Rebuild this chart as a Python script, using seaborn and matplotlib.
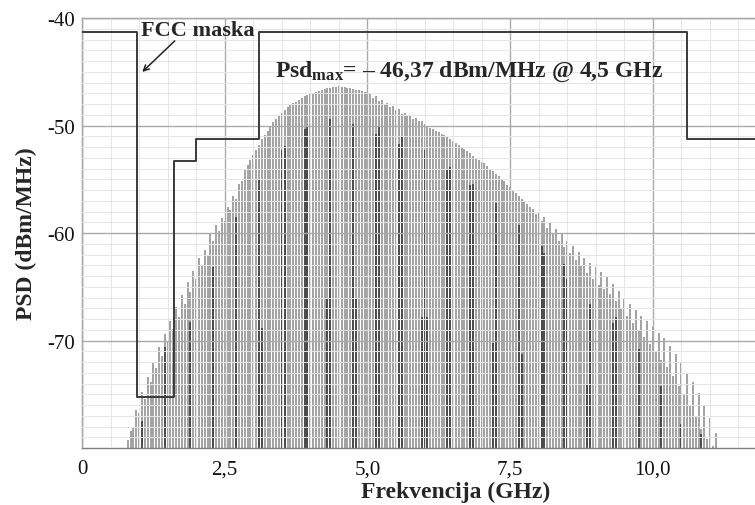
import numpy as np
import pandas as pd
import matplotlib
matplotlib.use("Agg")
import matplotlib.pyplot as plt
import seaborn as sns
from matplotlib.ticker import MultipleLocator

# spectral lines, 0.05 GHz apart starting at 0.80 GHz (dBm/MHz)
f_start = 0.80
f_step = 0.05
psd_lines = [
    -79.3, -78.4, -78.0, -76.5, -76.7, -74.8, -75.4, -73.4, -73.9, -72.0,
    -72.6, -70.6, -71.4, -69.4, -70.1, -68.2, -68.9, -66.9, -67.8, -65.8,
    -66.6, -64.6, -65.5, -63.5, -64.3, -62.3, -63.0, -61.6, -62.1, -60.1,
    -60.7, -59.3, -59.8, -58.6, -58.9, -57.6, -57.9, -56.6, -56.8, -55.4,
    -55.2, -54.1, -53.7, -53.2, -52.7, -52.3, -51.8, -51.3, -50.9, -50.5,
    -50.1, -49.7, -49.4, -49.1, -48.8, -48.6, -48.3, -48.1, -47.9, -47.8,
    -47.6, -47.4, -47.3, -47.2, -47.1, -47.0, -46.9, -46.8, -46.7, -46.6,
    -46.5, -46.5, -46.4, -46.4, -46.37, -46.4, -46.4, -46.5, -46.5, -46.6,
    -46.7, -46.7, -46.8, -46.9, -46.9, -47.1, -47.4, -47.3, -47.7, -47.6,
    -48.0, -47.9, -48.3, -48.2, -48.6, -48.5, -48.9, -48.8, -49.1, -49.0,
    -49.4, -49.3, -49.6, -49.6, -49.9, -50.0, -50.2, -50.3, -50.5, -50.6,
    -50.8, -50.9, -51.1, -51.3, -51.4, -51.6, -51.8, -52.0, -52.2, -52.4,
    -52.6, -52.8, -53.0, -53.2, -53.4, -53.5, -53.8, -54.0, -54.2, -54.5,
    -54.7, -55.0, -55.2, -55.5, -55.7, -56.0, -56.3, -56.6, -56.8, -57.1,
    -57.3, -57.6, -57.8, -58.2, -58.0, -58.9, -58.5, -59.5, -59.0, -60.1,
    -59.6, -60.7, -60.1, -61.3, -60.7, -61.9, -61.2, -62.5, -61.8, -63.1,
    -62.3, -63.7, -62.8, -64.3, -63.2, -64.8, -63.6, -65.2, -64.1, -65.7,
    -64.7, -66.3, -65.4, -67.0, -66.0, -67.7, -66.6, -68.4, -67.2, -69.0,
    -67.7, -69.7, -68.2, -70.3, -68.7, -71.0, -69.3, -71.8, -69.8, -72.5,
    -70.5, -73.3, -71.3, -74.2, -72.1, -75.0, -73.0, -76.0, -73.9, -77.0,
    -74.9, -78.2, -76.0, -79.2, -77.2, -79.8, -78.6,
]

# darker lines drawn on top
dark_freq = [1.05, 1.45, 1.90, 2.30, 2.70, 3.10, 3.15, 3.50, 3.55, 3.90, 3.95,
             4.30, 4.35, 4.75, 4.80, 5.15, 5.20, 5.55, 5.60, 5.95, 6.00, 6.05,
             6.40, 6.45, 6.80, 6.85, 7.20, 7.25, 7.65, 7.70, 8.05, 8.10, 8.45,
             8.50, 8.85, 8.90, 9.30, 9.35, 9.75, 10.15, 10.50, 10.85]
dark_psd = [-77.5, -70.6, -68.3, -63.2, -58.5, -55.1, -68.8, -52.3, -51.9, -50.3, -50.0,
            -66.1, -49.4, -49.9, -66.1, -50.8, -50.0, -51.7, -51.0, -67.8, -52.3, -67.8,
            -54.0, -53.9, -55.5, -55.4, -70.2, -57.2, -59.3, -71.3, -61.2, -61.9, -62.9,
            -64.3, -74.0, -66.6, -68.4, -67.8, -70.8, -74.2, -77.8, -78.7]

# FCC indoor mask (step edges)
mask_freq = [0.0, 0.96, 1.61, 1.99, 3.1, 10.6, 12.0]
mask_psd = [-41.3, -75.3, -53.3, -51.3, -41.3, -51.3, -51.3]

x_ticks = [0, 2.5, 5.0, 7.5, 10.0]
x_labels = ["0", "2,5", "5,0", "7,5", "10,0"]
y_ticks = [-70, -60, -50, -40]
y_labels = ["-70", "-60", "-50", "-40"]

sns.set_style("white")
plt.rcParams["font.family"] = ["Liberation Serif", "DejaVu Serif"]
plt.rcParams["mathtext.fontset"] = "custom"
plt.rcParams["mathtext.rm"] = "Liberation Serif"
plt.rcParams["mathtext.bf"] = "Liberation Serif:bold"

fig = plt.figure(figsize=(7.55, 5.06), dpi=100)
ax = fig.add_axes([82 / 755, 57 / 506, 685 / 755, 430 / 506])

freq = f_start + f_step * np.arange(len(psd_lines))
ax.vlines(freq, -80, psd_lines, colors="#9e9e9e", lw=1.35, zorder=1)
ax.vlines(dark_freq, -80, dark_psd, colors="#3c3c3c", lw=1.2, zorder=1.5)

mask = pd.DataFrame({"f": mask_freq, "psd": mask_psd})
sns.lineplot(data=mask, x="f", y="psd", drawstyle="steps-post", estimator=None,
             color="#3a3a3a", lw=1.4, ax=ax, zorder=3)

ax.set_xlim(0, 12)
ax.set_ylim(-80, -40)
ax.set_xticks(x_ticks)
ax.set_xticklabels(x_labels)
ax.set_yticks(y_ticks)
ax.set_yticklabels(y_labels)
ax.xaxis.set_minor_locator(MultipleLocator(0.5))
ax.yaxis.set_minor_locator(MultipleLocator(1))

ax.set_axisbelow(False)
ax.grid(which="major", color="#aaaaaa", lw=1.0)
ax.grid(which="minor", color="#e6e6e6", lw=0.7)

for s in ax.spines.values():
    s.set_color("#808080")
    s.set_linewidth(1.0)

ax.tick_params(which="major", direction="out", length=3, width=1, color="#808080",
               labelsize=15, labelcolor="#111111")
ax.tick_params(axis="x", which="major", pad=5)
ax.tick_params(axis="y", which="major", pad=2)
ax.tick_params(which="minor", direction="in", length=3, width=0.8, color="#a0a0a0")

ax.set_xlabel("Frekvencija (GHz)", fontsize=17, fontweight="bold", va="center")
ax.xaxis.set_label_coords(0.546, -0.1)
ax.set_ylabel("PSD (dBm/MHz)", fontsize=17, fontweight="bold")
ax.yaxis.set_label_coords(-0.066, 0.5)

ax.text(2.02, -41.1, "FCC maska", fontsize=16, fontweight="bold",
        ha="center", va="center")
ax.annotate("", xy=(1.02, -45.2), xytext=(1.66, -41.95),
            arrowprops=dict(arrowstyle="->", color="#222222", lw=1.1))
ax.text(3.38, -45.4, r"$\mathbf{Psd_{max}}$= – 46,37 dBm/MHz @ 4,5 GHz",
        fontsize=17, fontweight="bold", ha="left", va="baseline")

fig.savefig("out.png", dpi=100)
